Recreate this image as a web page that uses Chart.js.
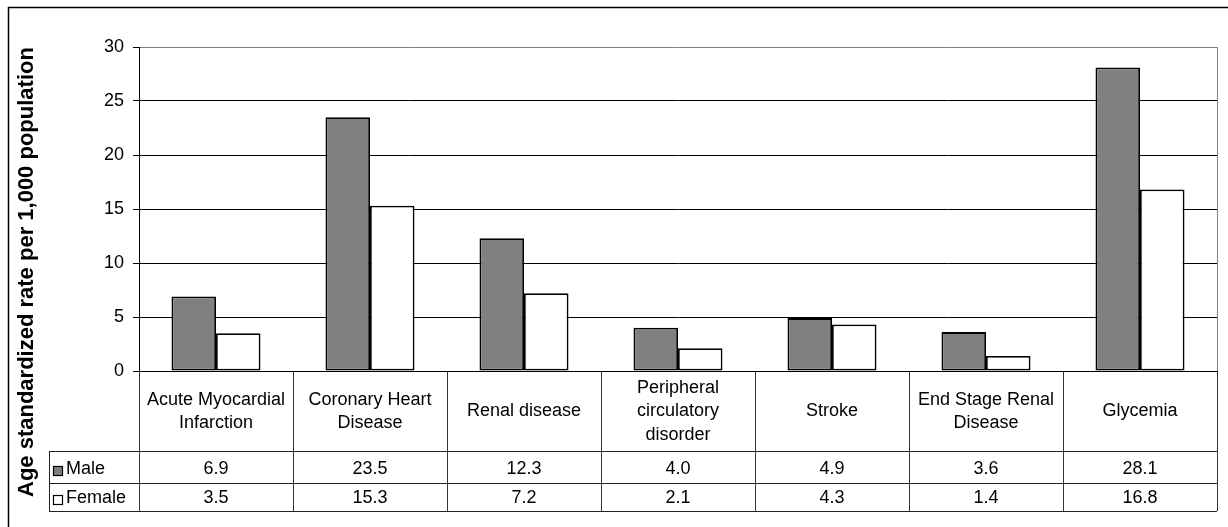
<!DOCTYPE html>
<html><head><meta charset="utf-8">
<script src="https://cdn.jsdelivr.net/npm/chart.js@4/dist/chart.umd.min.js"></script>
<style>html,body{margin:0;padding:0;background:#fff;overflow:hidden}canvas{display:block}</style>
</head><body>
<canvas id="c" width="1228" height="527"></canvas>
<script>
const categories = [["Acute Myocardial","Infarction"],["Coronary Heart","Disease"],["Renal disease"],["Peripheral","circulatory","disorder"],["Stroke"],["End Stage Renal","Disease"],["Glycemia"]];
const seriesNames = ["Male","Female"];
const maleValues = [6.9,23.5,12.3,4.0,4.9,3.6,28.1];
const femaleValues = [3.5,15.3,7.2,2.1,4.3,1.4,16.8];
const yTicks = [0,5,10,15,20,25,30];
const yTitle = "Age standardized rate per 1,000 population";
const FONT = "'Liberation Sans', Arial, sans-serif";

const frame = {
  id: 'frame',
  beforeDraw(chart) {
    const ctx = chart.ctx;
    ctx.save();
    ctx.fillStyle = '#fff';
    ctx.fillRect(0, 0, chart.width, chart.height);
    ctx.strokeStyle = '#000';
    ctx.lineWidth = 1.5;
    ctx.strokeRect(8.5, 7.5, 1400, 700);
    ctx.restore();
  }
};

const dataTable = {
  id: 'dataTable',
  afterDraw(chart) {
    const {ctx, chartArea} = chart;
    const xs = chart.scales.x;
    const left = 49, right = chartArea.right;
    ctx.save();
    ctx.strokeStyle = '#222';
    ctx.lineWidth = 1;
    ctx.beginPath();
    [451, 483, 511].forEach(y => { ctx.moveTo(left, y + 0.5); ctx.lineTo(right, y + 0.5); });
    ctx.moveTo(left + 0.5, 451); ctx.lineTo(left + 0.5, 511.5);
    ctx.stroke();
    ctx.font = '18px ' + FONT;
    ctx.textBaseline = 'middle';
    const textY = [469, 498];
    const keyY = [471, 500];
    chart.data.datasets.forEach((ds, di) => {
      ctx.fillStyle = '#000';
      ctx.textAlign = 'center';
      ds.data.forEach((v, i) => ctx.fillText(v.toFixed(1), xs.getPixelForValue(i), textY[di]));
      ctx.fillStyle = ds.backgroundColor;
      ctx.fillRect(53, keyY[di] - 5, 10, 10);
      ctx.strokeStyle = '#000';
      ctx.lineWidth = 1.2;
      ctx.strokeRect(53.5, keyY[di] - 4.5, 9, 9);
      ctx.fillStyle = '#000';
      ctx.textAlign = 'left';
      ctx.fillText(ds.label, 66, textY[di]);
    });
    ctx.restore();
  }
};

new Chart(document.getElementById('c'), {
  type: 'bar',
  data: {
    labels: categories,
    datasets: [
      {label: seriesNames[0], data: maleValues, backgroundColor: '#808080', borderColor: '#000', borderWidth: 1.8, borderSkipped: false, categoryPercentage: 0.578, barPercentage: 1},
      {label: seriesNames[1], data: femaleValues, backgroundColor: '#ffffff', borderColor: '#000', borderWidth: 1.8, borderSkipped: false, categoryPercentage: 0.578, barPercentage: 1}
    ]
  },
  options: {
    responsive: false,
    animation: false,
    layout: {padding: {left: 0, top: 47, right: 11, bottom: 30}},
    plugins: {
      legend: {display: false},
      tooltip: {enabled: false},
      title: {display: true, position: 'left', align: 'start', text: yTitle, color: '#000',
        font: {family: FONT, size: 22, weight: 'bold', lineHeight: 1.2}, padding: {top: 14, bottom: 0}}
    },
    scales: {
      x: {
        offset: true,
        grid: {offset: true, drawOnChartArea: true,
          color: c => c.type === 'tick' ? 'rgba(0,0,0,0)' : '#808080',
          tickColor: '#333', tickLength: 140, lineWidth: 1},
        border: {display: true, color: '#000', width: 1},
        ticks: {font: {family: FONT, size: 18, lineHeight: 1.3}, color: '#000', padding: -123,
          crossAlign: 'center', maxRotation: 0, minRotation: 0, autoSkip: false},
        afterFit: s => { s.height = 126; }
      },
      y: {
        min: 0, max: 30,
        afterBuildTicks: s => { s.ticks = yTicks.map(v => ({value: v})); },
        grid: {color: c => (c.tick && c.tick.value === 30) ? '#808080' : '#000', tickColor: '#000', tickLength: 6, lineWidth: 1},
        border: {color: '#000', width: 1},
        ticks: {font: {family: FONT, size: 18}, color: '#000', padding: 9},
        afterFit: s => { s.width = 98.6; }
      }
    }
  },
  plugins: [frame, dataTable]
});
</script>
</body></html>
